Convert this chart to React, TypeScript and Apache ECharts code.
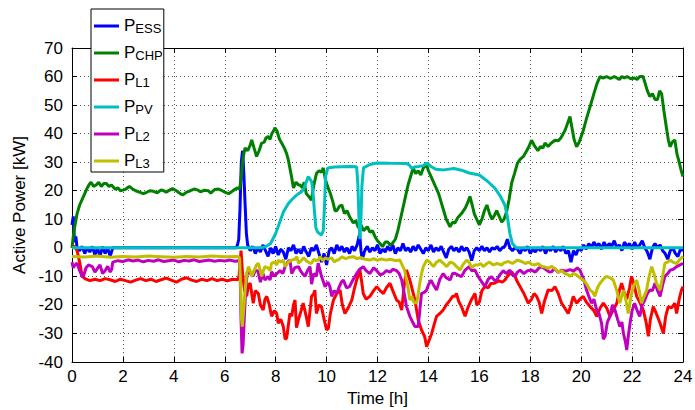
import React, { useEffect, useRef } from "react";
import * as echarts from "echarts";

type Pt = [number, number];

const xTicks = [0, 2, 4, 6, 8, 10, 12, 14, 16, 18, 20, 22, 24];
const yTicks = [-40, -30, -20, -10, 0, 10, 20, 30, 40, 50, 60, 70];
const seriesNames = ["ESS", "CHP", "L1", "PV", "L2", "L3"];
const seriesColors = ["#0000ff", "#008000", "#ff0000", "#00bfbf", "#bf00bf", "#bfbf00"];

const pESS: Pt[] = [[0,8],[0.05,11],[0.1,2],[0.15,4],[0.2,0],[0.3,-1],[0.4,0.5],[0.5,-2],[0.6,0],[0.7,-1.5],[0.8,0.5],[0.9,-2.5],[1.0,0],[1.1,-3],[1.2,0.5],[1.3,-2],[1.4,0],[1.5,-3],[1.6,0],[1.7,0],[6.45,0],[6.5,1],[6.55,3],[6.6,14],[6.65,30],[6.7,34],[6.75,26],[6.8,15],[6.85,5],[6.9,1],[7.0,-1],[7.1,0.5],[7.2,-2],[7.3,0],[7.4,-1.5],[7.5,1],[7.6,-1],[7.7,-3],[7.8,0],[7.9,-2],[8.0,0.5],[8.1,-2.5],[8.2,-0.5],[8.3,-1.5],[8.4,-4],[8.5,0],[8.6,-1],[8.7,1],[8.8,-2],[8.9,-0.5],[9.0,-2],[9.1,0.5],[9.2,-1.5],[9.3,-3],[9.4,0],[9.5,-1],[9.6,1],[9.7,-2],[9.8,-5],[9.9,-2],[10.0,-6],[10.1,-1],[10.2,0],[10.3,-2],[10.4,1],[10.5,-1],[10.6,0.5],[10.7,-1.5],[10.8,0],[10.9,-2],[11.0,0.5],[11.1,-1],[11.2,1],[11.3,5],[11.35,-1],[11.4,-4],[11.5,-1],[11.6,0.5],[11.7,-1.5],[11.8,0],[11.9,-1],[12.0,1],[12.1,-2],[12.2,-0.5],[12.3,-1.5],[12.4,0.5],[12.5,-1],[12.6,1],[12.7,-2],[12.8,0],[12.9,-1],[13.0,1.5],[13.1,-1],[13.2,0],[13.3,-1.5],[13.4,0.5],[13.5,-1],[13.6,1],[13.7,-0.5],[13.8,-2],[13.9,0],[14.0,-1],[14.1,1],[14.2,-1.5],[14.3,0],[14.4,-1],[14.5,0.5],[14.6,-1.5],[14.7,-3.5],[14.8,-0.5],[14.9,0.5],[15.0,-1],[15.1,0],[15.2,-1.5],[15.3,0.5],[15.4,-1],[15.5,0],[15.6,-1.5],[15.7,-4.5],[15.8,-1],[15.9,0],[16.0,-1],[16.1,0.5],[16.2,-1],[16.3,0],[16.4,-1.5],[16.5,0],[16.6,-0.5],[16.7,0.5],[16.8,-1],[16.9,0],[17.0,0.5],[17.1,3],[17.2,0],[17.3,-1],[17.4,0],[17.5,-0.5],[17.6,-2],[17.7,0],[17.8,-1],[17.9,0.5],[18.0,-2],[18.1,-0.5],[18.2,-1.5],[18.3,0],[18.4,-1],[18.5,0.5],[18.6,-2],[18.7,0],[18.8,-1],[18.9,0.5],[19.0,-1.5],[19.1,0],[19.2,-1],[19.3,0.5],[19.4,-2],[19.5,-1],[19.6,-5],[19.7,-1],[19.8,-2.5],[19.9,0],[20.0,-1],[20.1,1],[20.2,-0.5],[20.3,1.5],[20.4,0],[20.5,2],[20.6,0.5],[20.7,1.5],[20.8,-0.5],[20.9,2],[21.0,0],[21.1,1.5],[21.2,0.5],[21.3,2.5],[21.4,0],[21.5,1],[21.6,-1],[21.7,2],[21.8,0.5],[21.9,1.5],[22.0,-0.5],[22.1,2],[22.2,0],[22.3,1],[22.4,2.5],[22.5,0],[22.6,-1.5],[22.7,-4],[22.8,0],[22.9,1.5],[23.0,0],[23.1,1],[23.2,-1],[23.3,-2],[23.4,-4],[23.5,-1],[23.6,0],[23.7,-2],[23.8,-3],[23.9,-0.5],[24,-1]];

const pCHP: Pt[] = [[0,0],[0.05,4],[0.1,7],[0.2,12],[0.3,15],[0.4,17],[0.5,19],[0.6,21],[0.7,22.5],[0.75,23],[0.85,21.5],[0.95,22],[1.05,23],[1.15,21.5],[1.25,22.5],[1.35,22.5],[1.45,21.5],[1.55,22],[1.7,20.5],[1.8,21],[1.9,20],[2.0,20.2],[2.1,20.5],[2.25,21.5],[2.35,20.8],[2.5,20],[2.65,19.5],[2.8,19],[2.9,19.3],[3.05,20],[3.2,19.8],[3.35,19.3],[3.5,20.3],[3.6,20],[3.7,19.5],[3.85,20.3],[3.95,20.8],[4.1,20],[4.25,19],[4.35,18.5],[4.5,19.5],[4.65,20],[4.8,20.6],[4.95,20.2],[5.05,19.6],[5.2,20.2],[5.35,20],[5.45,19.2],[5.6,20.4],[5.75,20.6],[5.9,20],[6.0,19.5],[6.15,19],[6.25,19.5],[6.4,20.5],[6.5,21],[6.58,20.5],[6.64,24],[6.7,30],[6.75,33],[6.8,35],[6.9,34],[7.0,36],[7.06,37.8],[7.15,35],[7.25,32],[7.35,34],[7.45,36.7],[7.55,37],[7.62,38.5],[7.7,39],[7.78,38],[7.85,40],[7.92,41],[7.97,42],[8.05,41],[8.15,38],[8.24,36.6],[8.34,35],[8.43,33],[8.5,30.7],[8.6,26],[8.7,21],[8.8,23],[8.9,22],[8.96,22],[9.05,21],[9.12,23],[9.2,19],[9.3,18],[9.4,16.7],[9.5,22],[9.6,26],[9.7,27],[9.8,26.5],[9.87,28],[9.95,24],[10.06,21],[10.15,19],[10.25,16],[10.33,13],[10.4,13],[10.5,14.5],[10.6,15],[10.7,12],[10.8,13],[10.9,11],[11.05,8.7],[11.15,9.5],[11.25,7],[11.35,8],[11.45,6],[11.6,7.4],[11.7,5.5],[11.8,6],[11.9,4],[12.0,2.5],[12.1,1.5],[12.2,0.4],[12.3,2],[12.4,2],[12.5,1],[12.6,1.7],[12.7,3],[12.8,6],[12.9,10],[13.0,14],[13.1,18],[13.2,22],[13.3,25],[13.4,28],[13.5,26],[13.6,27],[13.7,25.5],[13.8,28],[13.93,29],[14.0,27],[14.1,25],[14.2,23],[14.3,21],[14.4,19],[14.5,16],[14.6,13],[14.7,10],[14.85,7.4],[14.95,9],[15.04,8.7],[15.15,10.5],[15.3,12],[15.45,14],[15.55,16],[15.63,18],[15.72,15],[15.8,12],[15.9,10],[16.0,8],[16.1,10],[16.2,13],[16.3,15],[16.4,12],[16.5,10],[16.6,11.5],[16.68,13],[16.78,11],[16.88,9],[16.97,10],[17.07,12.6],[17.17,17],[17.27,22.7],[17.38,26],[17.5,29.7],[17.6,31],[17.73,32],[17.86,34],[17.95,35.5],[18.05,37.7],[18.15,36],[18.3,34],[18.4,35.5],[18.5,35],[18.58,36.7],[18.7,35.5],[18.8,36.5],[18.97,37.7],[19.1,37.5],[19.2,38.5],[19.36,41],[19.46,43.5],[19.56,46],[19.64,42],[19.72,38],[19.82,35.4],[19.92,37],[20.0,39],[20.08,41],[20.2,45],[20.35,49.4],[20.5,54],[20.62,57.5],[20.74,60],[20.85,59.5],[21.0,60],[21.15,59.3],[21.3,60],[21.4,59.5],[21.5,59],[21.6,60],[21.7,59.5],[21.8,60],[21.95,59.2],[22.1,59.5],[22.2,59],[22.3,60],[22.43,60],[22.5,58],[22.6,55],[22.7,53],[22.8,54],[22.9,52],[23.0,52],[23.08,55],[23.16,54],[23.25,48],[23.35,42],[23.42,38],[23.49,35.4],[23.58,37],[23.68,37.8],[23.76,33],[23.85,30],[23.93,27],[24,25]];

const pL1: Pt[] = [[0,0],[0.1,0.5],[0.2,-1],[0.3,-5],[0.4,-10],[0.55,-11],[0.7,-11.5],[0.9,-11],[1.1,-11.5],[1.3,-10.8],[1.5,-11.2],[1.7,-11.8],[1.9,-11],[2.1,-11.5],[2.3,-12],[2.5,-11.3],[2.7,-10.8],[2.9,-11.5],[3.1,-11],[3.3,-11.8],[3.5,-11.2],[3.7,-10.6],[3.9,-11.3],[4.1,-12],[4.3,-11],[4.5,-10.5],[4.7,-11.3],[4.9,-11.8],[5.1,-11],[5.3,-11.5],[5.5,-10.8],[5.7,-11.5],[5.9,-11],[6.1,-11.6],[6.3,-11],[6.5,-11.2],[6.56,-10],[6.64,-1],[6.7,-9],[6.78,-15],[6.86,-17],[6.93,-13],[7.0,-12.4],[7.06,-16],[7.12,-19.4],[7.2,-15],[7.32,-16],[7.4,-20],[7.51,-21.8],[7.58,-18],[7.65,-17],[7.75,-20],[7.84,-24],[7.95,-22],[8.04,-23],[8.1,-26.4],[8.2,-25],[8.3,-27.6],[8.37,-32],[8.43,-31.7],[8.5,-27],[8.56,-23],[8.63,-24],[8.7,-20],[8.76,-18.3],[8.82,-28],[8.9,-25],[9.0,-22],[9.08,-19.4],[9.2,-24],[9.28,-27.6],[9.35,-22],[9.41,-17],[9.5,-16],[9.54,-14.8],[9.6,-23],[9.7,-20],[9.8,-20.6],[9.9,-25],[10.0,-28.8],[10.07,-28.2],[10.15,-23],[10.27,-18.3],[10.4,-16],[10.53,-14.8],[10.62,-20],[10.72,-23],[10.85,-21],[10.99,-18.3],[11.1,-14],[11.18,-11.3],[11.31,-7.8],[11.38,-12],[11.44,-16],[11.55,-18],[11.7,-17],[11.85,-15],[11.97,-13.6],[12.1,-15],[12.23,-16],[12.35,-14],[12.49,-12.4],[12.6,-15],[12.75,-18.3],[12.85,-19],[12.95,-21.8],[13.05,-13],[13.14,-7.8],[13.27,-11.3],[13.35,-14],[13.47,-18.3],[13.6,-25.3],[13.73,-28.8],[13.85,-31],[13.93,-34.6],[14.0,-33],[14.13,-30],[14.22,-27],[14.32,-24],[14.45,-23],[14.58,-21.8],[14.7,-20],[14.85,-18.3],[14.95,-17],[15.04,-17],[15.1,-16],[15.2,-19],[15.3,-20.6],[15.44,-24],[15.55,-21],[15.7,-18],[15.83,-16],[15.9,-20],[16.0,-19],[16.1,-15],[16.22,-13.6],[16.35,-14],[16.45,-12.5],[16.6,-12.4],[16.75,-11.5],[16.9,-12],[17.0,-11.3],[17.1,-10],[17.27,-8.4],[17.4,-10],[17.5,-12],[17.6,-13.6],[17.75,-16],[17.92,-19.4],[18.05,-18],[18.15,-16],[18.25,-17],[18.35,-19],[18.45,-23],[18.55,-19],[18.7,-14.8],[18.85,-15],[18.97,-13.6],[19.1,-16],[19.23,-19.4],[19.35,-21],[19.49,-23],[19.6,-20],[19.69,-17],[19.82,-19.4],[19.95,-18],[20.08,-17],[20.2,-19],[20.35,-20.6],[20.5,-22],[20.61,-24],[20.75,-21],[20.87,-19.4],[21.0,-21],[21.13,-24],[21.25,-22],[21.4,-19.4],[21.5,-15],[21.59,-12.4],[21.7,-16],[21.79,-18],[21.9,-14],[21.98,-10],[22.08,-13],[22.18,-17],[22.3,-19],[22.44,-21.8],[22.55,-26],[22.64,-31],[22.72,-25],[22.83,-20.6],[22.95,-23],[23.1,-26.4],[23.23,-30],[23.32,-24],[23.42,-20.6],[23.55,-21],[23.68,-19.4],[23.75,-23],[23.85,-18],[23.94,-14.8],[24,-13.6]];

const pPV: Pt[] = [[0,0],[7.4,0],[7.6,0.4],[7.8,1.5],[8.0,5],[8.1,7.5],[8.2,10],[8.3,12.5],[8.4,14],[8.5,15.5],[8.65,17],[8.8,18.3],[8.9,19],[9.0,19.5],[9.1,20.5],[9.2,23],[9.28,25],[9.35,24],[9.42,23],[9.48,18],[9.53,12],[9.58,7],[9.65,5.5],[9.72,5],[9.8,4.5],[9.87,6],[9.92,15],[9.96,25],[10.05,28],[10.3,28.3],[10.6,28.4],[10.9,28.5],[11.18,28.4],[11.23,22],[11.28,8],[11.31,3],[11.35,10],[11.39,22],[11.45,28],[11.7,29.2],[11.97,29.7],[12.5,29.6],[13.15,29.5],[13.25,29],[13.35,27.8],[13.45,28.3],[13.6,28.5],[13.8,28.8],[13.93,29.7],[14.1,28.5],[14.3,27.5],[14.6,27.3],[15.0,27.8],[15.3,27.2],[15.6,26.2],[16.0,25.5],[16.3,23.5],[16.6,21],[16.8,18.5],[17.0,15],[17.1,11],[17.2,5],[17.3,1.5],[17.45,0],[24,0]];

const pL2: Pt[] = [[0,-5],[0.05,-7],[0.12,-6],[0.2,-5.4],[0.3,-8],[0.4,-10],[0.45,-10],[0.55,-7],[0.65,-6],[0.8,-6.6],[0.9,-8.5],[1.0,-7.2],[1.1,-6],[1.2,-9],[1.3,-8],[1.4,-6.5],[1.5,-8.5],[1.56,-7.5],[1.6,-5],[1.8,-4.5],[2.0,-4.8],[2.2,-4.2],[2.4,-4.6],[2.6,-4.3],[2.8,-4.9],[3.0,-4.4],[3.2,-4.7],[3.4,-4.2],[3.6,-4.8],[3.8,-4.5],[4.0,-4.3],[4.2,-4.9],[4.4,-4.4],[4.6,-4.6],[4.8,-4.2],[5.0,-4.8],[5.2,-4.5],[5.4,-4.3],[5.6,-4.7],[5.8,-4.4],[6.0,-4.6],[6.2,-4.3],[6.4,-4.7],[6.55,-4.5],[6.6,-6],[6.64,-25],[6.68,-37],[6.72,-34],[6.77,-24],[6.82,-15],[6.88,-9],[6.93,-7.8],[7.0,-9],[7.1,-10],[7.2,-8],[7.3,-8],[7.4,-12],[7.5,-9],[7.58,-11.3],[7.7,-10],[7.78,-11.3],[7.84,-8.4],[7.95,-10],[8.05,-9],[8.17,-8],[8.28,-9],[8.37,-6.6],[8.47,-5],[8.56,-4.3],[8.63,-9],[8.75,-7],[8.9,-6.6],[8.96,-7.8],[9.05,-9],[9.15,-10],[9.25,-8],[9.35,-6.6],[9.41,-12.7],[9.5,-9],[9.6,-10],[9.67,-5.4],[9.8,-10],[9.94,-13.6],[10.05,-12],[10.13,-13.6],[10.2,-17],[10.3,-15],[10.4,-16],[10.5,-13.6],[10.58,-12],[10.66,-11.3],[10.78,-14],[10.9,-13.6],[11.05,-11],[11.18,-9],[11.3,-7.5],[11.44,-6.6],[11.55,-8],[11.7,-9],[11.85,-7],[11.97,-8],[12.1,-9.5],[12.23,-9],[12.35,-8],[12.5,-8.5],[12.6,-7.5],[12.75,-8],[12.85,-9],[12.95,-11.3],[13.05,-16],[13.14,-20.6],[13.27,-24],[13.38,-26],[13.47,-27.6],[13.6,-27.6],[13.66,-22],[13.73,-16],[13.85,-15.5],[13.93,-14.8],[14.0,-13],[14.1,-11.3],[14.2,-13],[14.32,-14.8],[14.45,-11],[14.58,-9],[14.7,-10.5],[14.85,-11.3],[14.95,-9],[15.04,-8.9],[15.15,-9.5],[15.3,-10.1],[15.44,-7.8],[15.6,-6.6],[15.7,-8],[15.83,-7.8],[15.95,-10],[16.1,-12],[16.22,-13.6],[16.35,-11],[16.48,-10.1],[16.6,-11.5],[16.68,-11.3],[16.8,-9.5],[16.94,-8],[17.05,-9],[17.2,-7.8],[17.3,-9.5],[17.4,-10],[17.5,-8.5],[17.6,-7.8],[17.75,-9],[17.9,-8],[18.05,-7.8],[18.2,-8.5],[18.35,-7],[18.45,-6.6],[18.6,-7.5],[18.75,-8.5],[18.84,-8.4],[18.95,-7.2],[19.1,-8.6],[19.23,-7.8],[19.4,-8.2],[19.56,-7.6],[19.7,-8.2],[19.85,-7],[19.95,-7.8],[20.1,-11],[20.21,-14.8],[20.3,-17],[20.41,-19.4],[20.5,-18],[20.61,-21.8],[20.7,-23],[20.8,-26.4],[20.87,-32],[20.94,-31],[21.03,-26],[21.13,-24],[21.23,-20],[21.33,-21.8],[21.43,-25],[21.52,-27.6],[21.6,-26],[21.66,-30],[21.74,-33],[21.79,-35.8],[21.85,-31],[21.92,-26.4],[22.0,-22],[22.1,-19.4],[22.2,-22],[22.3,-24],[22.4,-20],[22.5,-18.3],[22.6,-16],[22.7,-14.8],[22.8,-15],[22.9,-12.4],[23.0,-15],[23.1,-17],[23.2,-13],[23.29,-10],[23.4,-9],[23.5,-7.8],[23.62,-7.5],[23.75,-6.6],[23.88,-6],[24,-5.4]];

const pL3: Pt[] = [[0,-3],[0.5,-3.2],[1.0,-2.9],[1.5,-3.3],[2.0,-3],[2.5,-3.2],[3.0,-2.9],[3.5,-3.1],[4.0,-3.3],[4.5,-3],[5.0,-3.2],[5.5,-2.9],[6.0,-3.1],[6.5,-3],[6.58,-3.5],[6.62,-12],[6.66,-25],[6.69,-27.6],[6.74,-22],[6.8,-14.8],[6.86,-9],[6.93,-6.6],[7.0,-8],[7.06,-10],[7.15,-8],[7.25,-6],[7.32,-5.4],[7.4,-8],[7.45,-10],[7.52,-8],[7.58,-6.6],[7.7,-7],[7.78,-8],[7.84,-5.4],[7.95,-5],[8.04,-6],[8.1,-4.3],[8.2,-5],[8.3,-4.3],[8.37,-6.6],[8.5,-5],[8.63,-4.3],[8.75,-4],[8.83,-3.1],[8.9,-5.4],[9.0,-4.5],[9.1,-3.5],[9.2,-4.5],[9.35,-5.4],[9.41,-5.4],[9.5,-4],[9.6,-4.5],[9.67,-4.3],[9.74,-3.1],[9.85,-4.5],[9.95,-3.5],[10.05,-4],[10.2,-3.5],[10.3,-5],[10.4,-4.3],[10.46,-4.3],[10.6,-3.2],[10.75,-3.8],[10.9,-3.3],[11.05,-3.1],[11.2,-3.8],[11.35,-3.4],[11.5,-4],[11.7,-4.3],[11.85,-3.8],[12.0,-4.4],[12.15,-3.9],[12.36,-4.3],[12.5,-4],[12.7,-4.5],[12.88,-4.3],[13.0,-6.6],[13.07,-8],[13.14,-11.3],[13.2,-14],[13.27,-18.3],[13.35,-17],[13.42,-19],[13.54,-19.4],[13.6,-16],[13.66,-12.4],[13.73,-9],[13.8,-6.6],[13.93,-4.3],[14.05,-5],[14.2,-6.6],[14.32,-5],[14.45,-4.3],[14.6,-5.5],[14.72,-6.6],[14.85,-5],[14.98,-5.4],[15.1,-6.5],[15.24,-7.8],[15.35,-6],[15.5,-4.3],[15.6,-5],[15.7,-7],[15.83,-6],[15.96,-6],[16.05,-5.5],[16.15,-6.6],[16.3,-5.5],[16.4,-5],[16.55,-6],[16.7,-5.5],[16.88,-6],[16.94,-5.4],[17.05,-5],[17.14,-4.8],[17.3,-5.5],[17.5,-4.3],[17.66,-4.8],[17.8,-5.5],[17.95,-5],[18.05,-5.8],[18.18,-6],[18.3,-5.5],[18.45,-6.5],[18.6,-6.8],[18.7,-7.2],[18.85,-6.5],[19.0,-7.5],[19.1,-8.5],[19.23,-8],[19.35,-9],[19.5,-9.5],[19.56,-10],[19.7,-9],[19.82,-9.5],[19.95,-10.5],[20.08,-11.3],[20.2,-12.5],[20.35,-14.8],[20.45,-15.5],[20.54,-17],[20.64,-14],[20.74,-12.4],[20.87,-11],[21.0,-10],[21.13,-10.5],[21.26,-11.3],[21.4,-15],[21.52,-19.4],[21.59,-17],[21.66,-14.8],[21.75,-18],[21.85,-23],[21.92,-19],[21.98,-16],[22.08,-13],[22.18,-11.3],[22.28,-15],[22.37,-19.4],[22.47,-17],[22.57,-14.8],[22.67,-10],[22.77,-6.6],[22.86,-9],[22.96,-12.4],[23.1,-14.8],[23.2,-10],[23.29,-5.4],[23.4,-5],[23.49,-4.3],[23.6,-5],[23.75,-5.5],[23.88,-4],[24,-3]];

const seriesData = [pESS, pCHP, pL1, pPV, pL2, pL3];

const FONT = "'Liberation Sans', Arial, Helvetica, sans-serif";

export default function App() {
  const ref = useRef<HTMLDivElement>(null);
  useEffect(() => {
    if (!ref.current) return;
    const chart = echarts.init(ref.current, null, { renderer: "svg" });
    const axisLine = { show: true, onZero: false, lineStyle: { color: "#000", width: 1 } };
    const tick = { show: true, inside: true, length: 5, lineStyle: { color: "#000" } };
    const split = { show: true, lineStyle: { type: [1, 3] as any, color: "#555", width: 1 } };
    chart.setOption({
      animation: false,
      backgroundColor: "#fff",
      textStyle: { fontFamily: FONT },
      grid: { left: 72, right: 12, top: 48, bottom: 48, outerBoundsMode: "none", show: false },
      legend: {
        data: seriesNames,
        orient: "vertical",
        left: 91,
        top: 9,
        itemWidth: 25,
        itemHeight: 3,
        itemGap: 3,
        icon: "rect",
        padding: [2, 1, 2, 3],
        borderColor: "#000",
        borderWidth: 1,
        borderRadius: 0,
        backgroundColor: "#fff",
        selectedMode: false,
        formatter: (name: string) => `{p|P}{s|${name}}`,
        textStyle: {
          fontFamily: FONT,
          color: "#000",
          rich: {
            p: { fontSize: 17, lineHeight: 18, verticalAlign: "top", fontFamily: FONT, color: "#000" },
            s: { fontSize: 13, lineHeight: 13, verticalAlign: "bottom", padding: [11, 0, 0, 0], fontFamily: FONT, color: "#000" },
          },
        },
      },
      xAxis: [
        {
          type: "value", min: xTicks[0], max: xTicks[xTicks.length - 1], interval: 2, position: "bottom",
          axisLine, axisTick: tick, splitLine: split,
          axisLabel: { fontSize: 17, color: "#000", margin: 6, fontFamily: FONT },
          name: "Time [h]", nameLocation: "middle", nameGap: 27,
          nameTextStyle: { fontSize: 17, color: "#000", fontFamily: FONT },
        },
        {
          type: "value", min: xTicks[0], max: xTicks[xTicks.length - 1], interval: 2, position: "top",
          axisLine, axisTick: tick, splitLine: { show: false }, axisLabel: { show: false },
        },
      ],
      yAxis: [
        {
          type: "value", min: yTicks[0], max: yTicks[yTicks.length - 1], interval: 10, position: "left",
          axisLine, axisTick: tick, splitLine: split,
          axisLabel: { fontSize: 17, color: "#000", margin: 9, fontFamily: FONT },
          name: "Active Power [kW]", nameLocation: "middle", nameGap: 43, nameRotate: 90,
          nameTextStyle: { fontSize: 17, color: "#000", fontFamily: FONT },
        },
        {
          type: "value", min: yTicks[0], max: yTicks[yTicks.length - 1], interval: 10, position: "right",
          axisLine, axisTick: tick, splitLine: { show: false }, axisLabel: { show: false },
        },
      ],
      series: seriesNames.map((n, i) => ({
        name: n,
        type: "line",
        data: seriesData[i],
        xAxisIndex: 0,
        yAxisIndex: 0,
        showSymbol: false,
        symbol: "none",
        color: seriesColors[i],
        lineStyle: { color: seriesColors[i], width: 3 },
        z: 2 + i * 0.01,
      })),
    });
    return () => chart.dispose();
  }, []);
  return <div ref={ref} style={{ width: 695, height: 410, position: "absolute", left: 0, top: 0 }} />;
}
